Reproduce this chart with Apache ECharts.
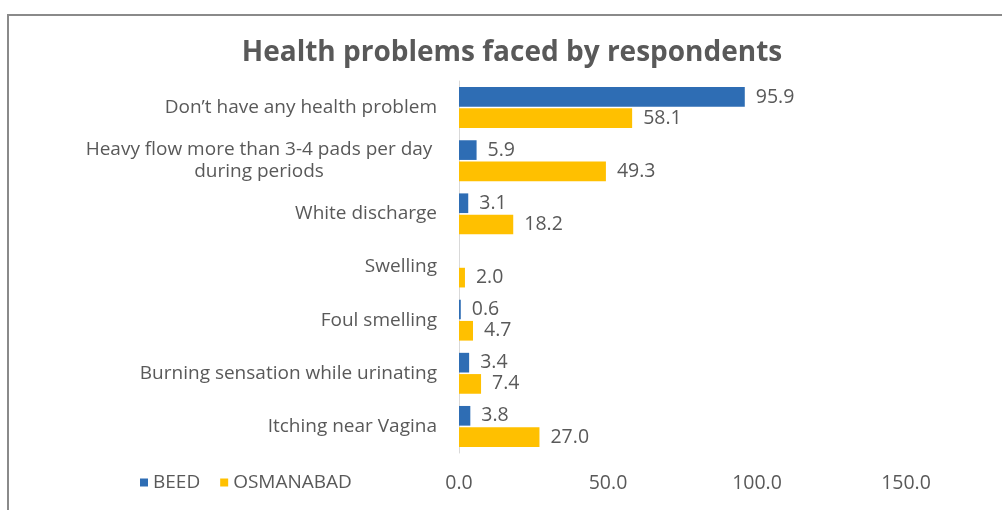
<!DOCTYPE html>
<html>
<head>
<meta charset="utf-8">
<style>
  html, body { margin: 0; padding: 0; background: #ffffff; }
  #chart { width: 1002px; height: 510px; }
</style>
<script src="https://cdn.jsdelivr.net/npm/echarts@6/dist/echarts.min.js"></script>
</head>
<body>
<div id="chart"></div>
<script>
// Health problem categories, listed top to bottom
const categories = [
  "Don\u2019t have any health problem",
  "Heavy flow more than 3-4 pads per day\nduring periods",
  "White discharge",
  "Swelling",
  "Foul smelling",
  "Burning sensation while urinating",
  "Itching near Vagina"
];

// Percent of respondents per district
const beed = [95.9, 5.9, 3.1, 0, 0.6, 3.4, 3.8];
const osmanabad = [58.1, 49.3, 18.2, 2.0, 4.7, 7.4, 27.0];

const seriesNames = ["BEED", "OSMANABAD"];
const xTicks = { min: 0, max: 150, interval: 50 };

const FONT = "'Open Sans', Lato, sans-serif";
const TEXT = "#595959";

const chart = echarts.init(document.getElementById("chart"), null, { renderer: "canvas" });

function valueLabel() {
  return {
    show: true,
    position: "right",
    distance: 11,
    color: TEXT,
    fontSize: 19.5,
    fontFamily: FONT,
    formatter: p => (p.value === 0 ? "" : Number(p.value).toFixed(1))
  };
}

chart.setOption({
  backgroundColor: "#ffffff",
  animation: false,
  title: {
    text: "Health problems faced by respondents",
    left: 507,
    textAlign: "center",
    top: 34,
    textStyle: { color: TEXT, fontSize: 28, fontWeight: "bold", fontFamily: FONT }
  },
  graphic: [{
    type: "polyline",
    shape: { points: [[8, 510], [8, 15], [1002, 15]] },
    style: { stroke: "#8a8a8a", lineWidth: 2, fill: null }
  }],
  legend: {
    data: seriesNames,
    left: 135,
    top: 468,
    icon: "rect",
    itemWidth: 8,
    itemHeight: 8,
    itemGap: 20,
    itemStyle: { borderWidth: 0 },
    textStyle: { color: TEXT, fontSize: 19, fontFamily: FONT }
  },
  grid: { left: 459, right: 96, top: 81, bottom: 57, containLabel: false },
  xAxis: {
    type: "value",
    min: xTicks.min,
    max: xTicks.max,
    interval: xTicks.interval,
    axisLine: { show: false },
    axisTick: { show: false },
    splitLine: { show: false },
    axisLabel: {
      color: TEXT,
      fontSize: 19.5,
      fontFamily: FONT,
      margin: 20,
      formatter: v => v.toFixed(1)
    }
  },
  yAxis: {
    type: "category",
    inverse: true,
    data: categories,
    axisLine: { show: true, lineStyle: { color: "#d9d9d9", width: 1 } },
    axisTick: { show: false },
    axisLabel: {
      color: TEXT,
      fontSize: 19,
      fontFamily: FONT,
      margin: 22,
      lineHeight: 22,
      formatter: v => v.indexOf("\n") >= 0 ? "{c|" + v + "}" : v,
      rich: {
        c: { width: 346, align: "center", color: TEXT, fontSize: 19, fontFamily: FONT, lineHeight: 22, padding: [0, 5, 0, 0] }
      }
    }
  },
  series: [
    {
      name: seriesNames[0],
      type: "bar",
      data: beed,
      itemStyle: { color: "#2E6DB4" },
      barGap: "8%",
      barCategoryGap: "23%",
      label: valueLabel()
    },
    {
      name: seriesNames[1],
      type: "bar",
      data: osmanabad,
      itemStyle: { color: "#FFC000" },
      barGap: "8%",
      barCategoryGap: "23%",
      label: valueLabel()
    }
  ]
});
</script>
</body>
</html>
